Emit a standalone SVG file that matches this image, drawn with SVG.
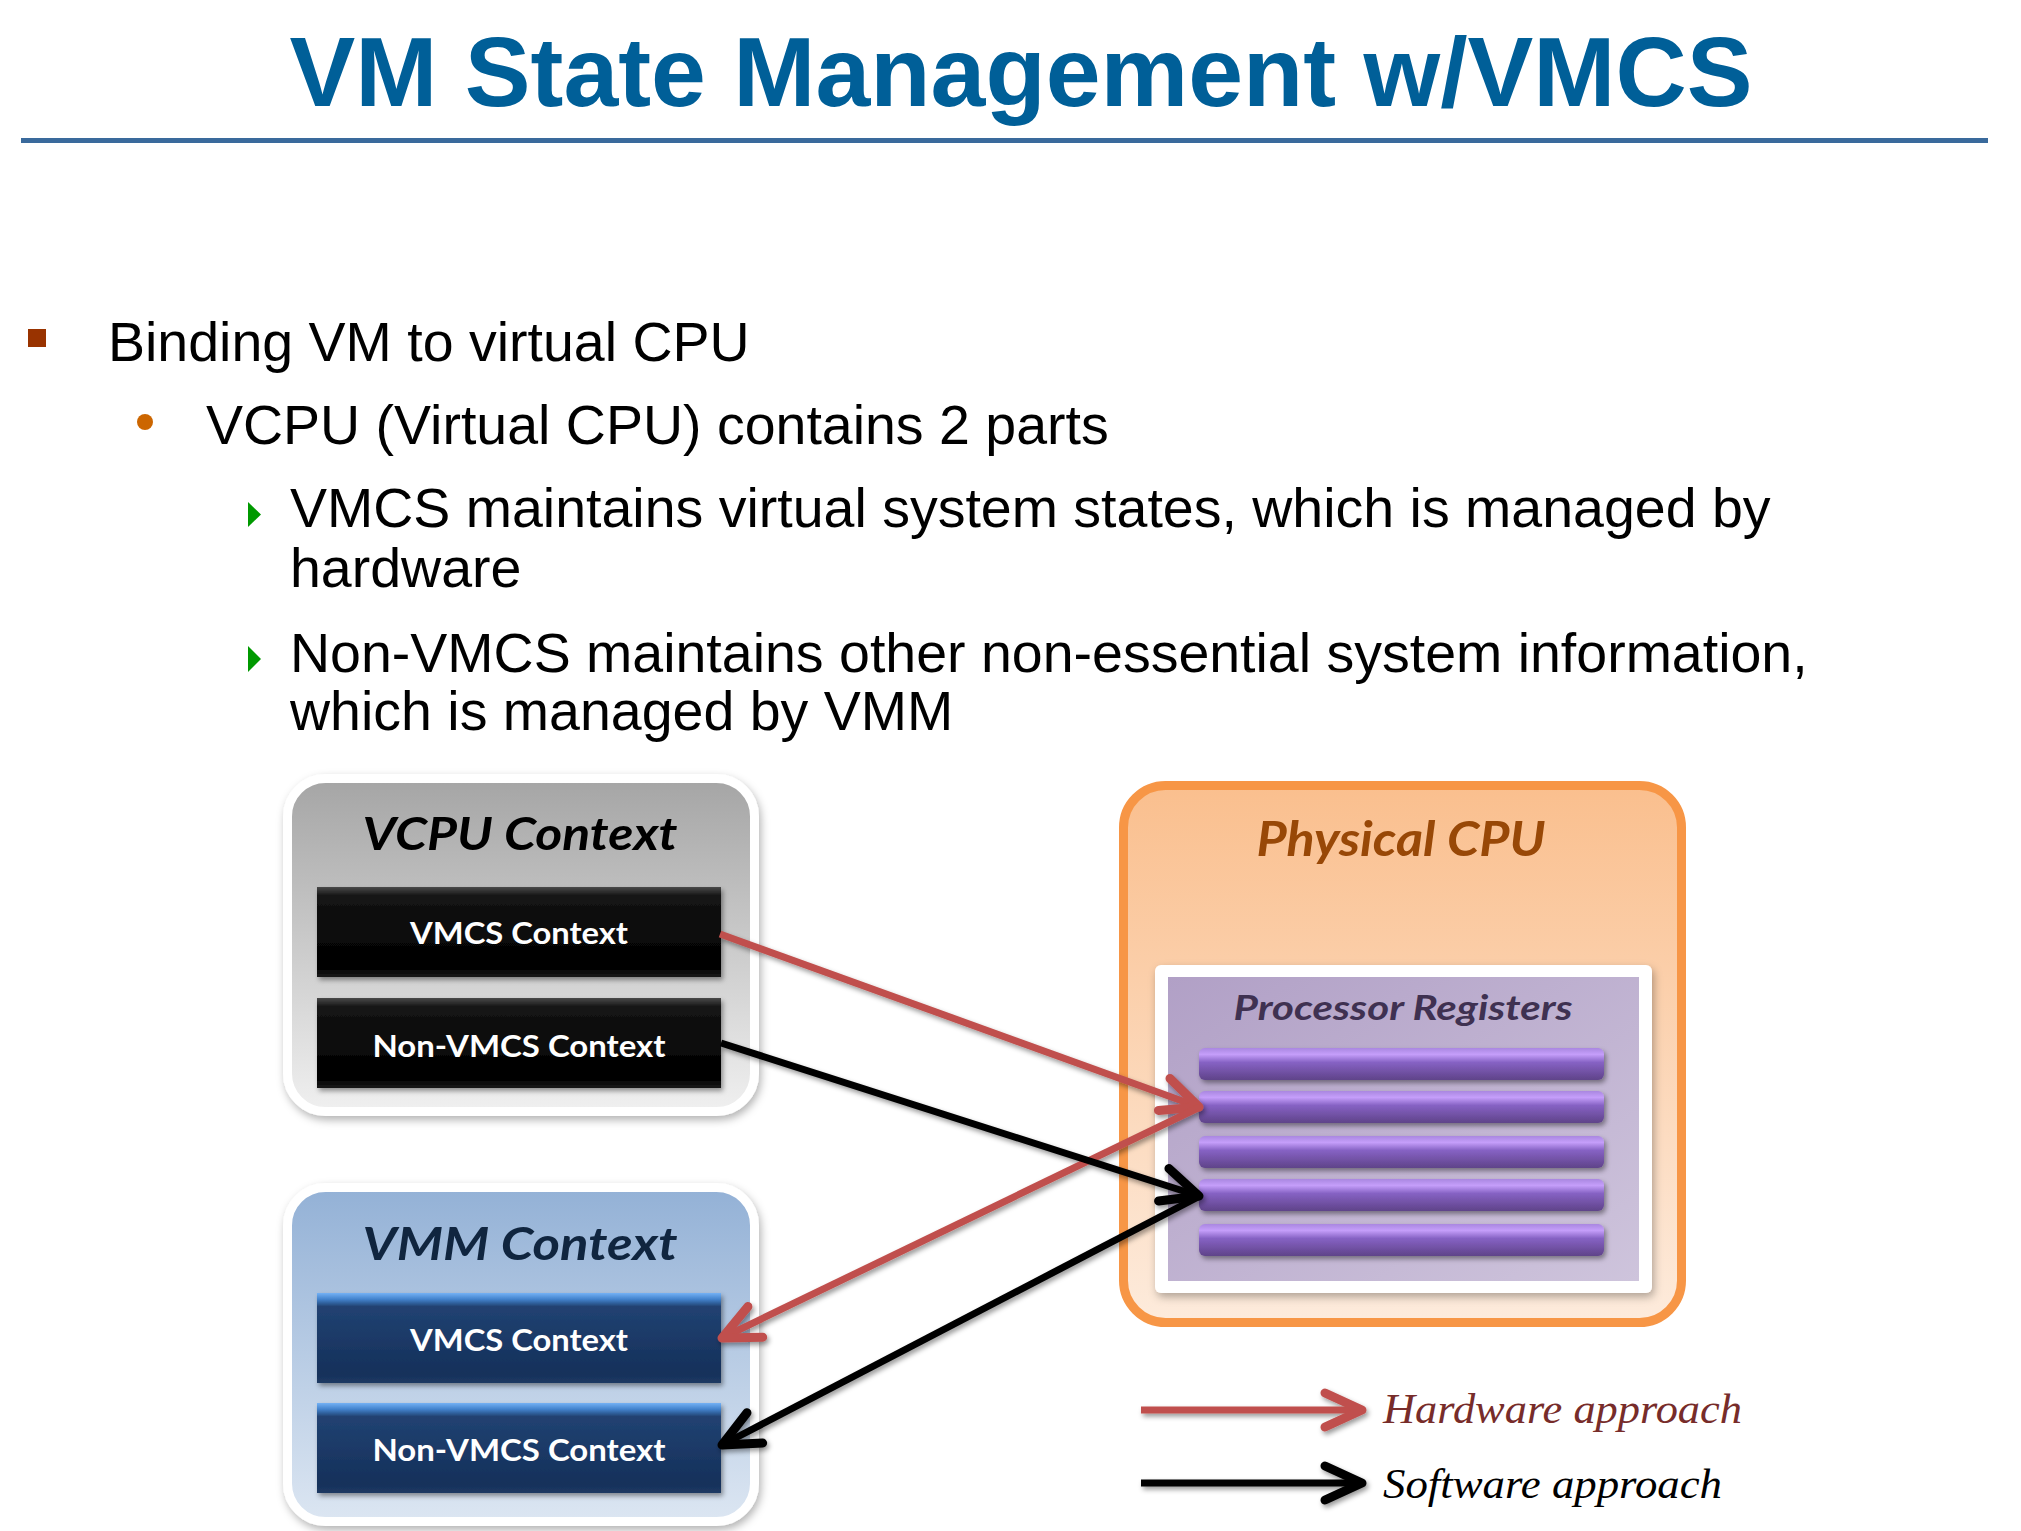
<svg xmlns="http://www.w3.org/2000/svg" width="2021" height="1531" viewBox="0 0 2021 1531">
<defs>
<style>
.body{font-family:"Liberation Sans",Arial,sans-serif;font-size:55.5px;fill:#000}
.ttl{font-family:Lato,"Open Sans",sans-serif;font-weight:bold;font-style:italic;text-anchor:middle}
.bar{font-family:Lato,"Open Sans",sans-serif;font-weight:bold;font-size:31px;fill:#fff;text-anchor:middle}
.leg{font-family:"Liberation Serif","Times New Roman",serif;font-style:italic;font-size:42px}
.conn{fill:none;stroke-width:7}
.red{stroke:#C0504D}
.blk{stroke:#000}
.frame{stroke:#fff;stroke-width:9}
.reg{fill:url(#gPurple)}
</style>
<linearGradient id="gGray" x1="0" y1="0" x2="0" y2="1"><stop offset="0" stop-color="#A5A5A5"/><stop offset="1" stop-color="#F0F0F0"/></linearGradient>
<linearGradient id="gBlue" x1="0" y1="0" x2="0" y2="1"><stop offset="0" stop-color="#93B1D6"/><stop offset="1" stop-color="#DCE6F2"/></linearGradient>
<linearGradient id="gOrange" x1="0" y1="0" x2="0" y2="1"><stop offset="0" stop-color="#FABF8E"/><stop offset="1" stop-color="#FDEBDC"/></linearGradient>
<linearGradient id="gLav" x1="0" y1="0" x2="1" y2="1"><stop offset="0" stop-color="#B1A0C6"/><stop offset="1" stop-color="#CEC4DC"/></linearGradient>
<linearGradient id="gBlack" x1="0" y1="0" x2="0" y2="1"><stop offset="0" stop-color="#4a4a4a"/><stop offset="0.1" stop-color="#141414"/><stop offset="0.9" stop-color="#000"/><stop offset="1" stop-color="#1a1a1a"/></linearGradient>
<linearGradient id="gNavy" x1="0" y1="0" x2="0" y2="1"><stop offset="0" stop-color="#74B1F5"/><stop offset="0.07" stop-color="#4282CC"/><stop offset="0.15" stop-color="#214272"/><stop offset="0.9" stop-color="#15305A"/><stop offset="1" stop-color="#1E3A63"/></linearGradient>
<linearGradient id="gPurple" x1="0" y1="0" x2="0" y2="1"><stop offset="0" stop-color="#A987E0"/><stop offset="0.2" stop-color="#C59EFA"/><stop offset="0.45" stop-color="#8662C4"/><stop offset="1" stop-color="#5F4389"/></linearGradient>
<filter id="sh" x="-10%" y="-10%" width="125%" height="130%"><feDropShadow dx="2" dy="4" stdDeviation="4" flood-color="#000" flood-opacity="0.3"/></filter>
<filter id="shs" x="-10%" y="-30%" width="125%" height="170%"><feDropShadow dx="2" dy="3" stdDeviation="2.5" flood-color="#000" flood-opacity="0.4"/></filter>
<filter id="shu" filterUnits="userSpaceOnUse" x="0" y="0" width="2021" height="1531"><feDropShadow dx="2" dy="3" stdDeviation="2.5" flood-color="#000" flood-opacity="0.4"/></filter>
<marker id="ahR" markerUnits="userSpaceOnUse" viewBox="-50 -30 60 60" refX="0" refY="0" markerWidth="60" markerHeight="60" orient="auto" overflow="visible"><path d="M -37 -17 L 0 0 L -37 17" fill="none" stroke="#C0504D" stroke-width="9" stroke-linecap="round" stroke-linejoin="round"/></marker>
<marker id="ahB" markerUnits="userSpaceOnUse" viewBox="-50 -30 60 60" refX="0" refY="0" markerWidth="60" markerHeight="60" orient="auto" overflow="visible"><path d="M -37 -17 L 0 0 L -37 17" fill="none" stroke="#000" stroke-width="9" stroke-linecap="round" stroke-linejoin="round"/></marker>
</defs>

<rect width="2021" height="1531" fill="#fff"/>

<g id="title">
<text x="1021" y="106" text-anchor="middle" font-family="Liberation Sans,Arial,sans-serif" font-weight="bold" font-size="99" fill="#005F98" textLength="1463" lengthAdjust="spacingAndGlyphs">VM State Management w/VMCS</text>
<rect x="21" y="138" width="1967" height="5" fill="#3A6A9C"/>
</g>

<g id="bullets">
<rect x="28" y="329" width="18" height="18" fill="#993300"/>
<text class="body" x="108" y="361">Binding VM to virtual CPU</text>
<circle cx="145" cy="422" r="8" fill="#CC6600"/>
<text class="body" x="206" y="444">VCPU (Virtual CPU) contains 2 parts</text>
<polygon points="248,502 261,514.5 248,527" fill="#009900"/>
<text class="body" x="290" y="527">VMCS maintains virtual system states, which is managed by</text>
<text class="body" x="290" y="587">hardware</text>
<polygon points="248,646 261,659 248,672" fill="#009900"/>
<text class="body" x="290" y="672">Non-VMCS maintains other non-essential system information,</text>
<text class="body" x="290" y="730">which is managed by VMM</text>
</g>

<g id="vcpu-context">
<rect x="287.5" y="778.5" width="467" height="333" rx="38" fill="url(#gGray)" class="frame" filter="url(#sh)"/>
<text class="ttl" x="520" y="850" font-size="46" fill="#000" textLength="315" lengthAdjust="spacingAndGlyphs">VCPU Context</text>
</g>
<g id="vcpu-vmcs">
<rect x="317" y="887" width="404" height="90" fill="url(#gBlack)" filter="url(#shs)"/>
<text class="bar" x="519" y="944" textLength="218" lengthAdjust="spacingAndGlyphs">VMCS Context</text>
</g>
<g id="vcpu-nonvmcs">
<rect x="317" y="998" width="404" height="90" fill="url(#gBlack)" filter="url(#shs)"/>
<text class="bar" x="519" y="1057" textLength="293" lengthAdjust="spacingAndGlyphs">Non-VMCS Context</text>
</g>

<g id="vmm-context">
<rect x="287.5" y="1187.5" width="467" height="334" rx="38" fill="url(#gBlue)" class="frame" filter="url(#sh)"/>
<text class="ttl" x="520" y="1260" font-size="46" fill="#10253F" textLength="315" lengthAdjust="spacingAndGlyphs">VMM Context</text>
</g>
<g id="vmm-vmcs">
<rect x="317" y="1293" width="404" height="90" fill="url(#gNavy)" filter="url(#shs)"/>
<text class="bar" x="519" y="1351" textLength="218" lengthAdjust="spacingAndGlyphs">VMCS Context</text>
</g>
<g id="vmm-nonvmcs">
<rect x="317" y="1403" width="404" height="90" fill="url(#gNavy)" filter="url(#shs)"/>
<text class="bar" x="519" y="1461" textLength="293" lengthAdjust="spacingAndGlyphs">Non-VMCS Context</text>
</g>

<g id="physical-cpu">
<rect x="1123.5" y="785.5" width="558" height="537" rx="42" fill="url(#gOrange)" stroke="#F79646" stroke-width="9"/>
<text class="ttl" x="1401" y="856" font-size="47" fill="#984807" textLength="289" lengthAdjust="spacingAndGlyphs">Physical CPU</text>
</g>
<g id="processor-registers">
<rect x="1155" y="965" width="497" height="328" rx="6" fill="#fff" filter="url(#sh)"/>
<rect x="1168" y="977" width="471" height="304" fill="url(#gLav)"/>
<text class="ttl" x="1403" y="1020" font-size="35" fill="#3F3151" textLength="339" lengthAdjust="spacingAndGlyphs">Processor Registers</text>
<rect class="reg" x="1199" y="1048" width="405" height="32" rx="6" filter="url(#shs)"/>
<rect class="reg" x="1199" y="1091" width="405" height="32" rx="6" filter="url(#shs)"/>
<rect class="reg" x="1199" y="1136" width="405" height="32" rx="6" filter="url(#shs)"/>
<rect class="reg" x="1199" y="1179" width="405" height="32" rx="6" filter="url(#shs)"/>
<rect class="reg" x="1199" y="1224" width="405" height="32" rx="6" filter="url(#shs)"/>
</g>

<g id="connectors" filter="url(#shu)">
<path class="conn red" d="M 720 934 L 1199 1107" marker-end="url(#ahR)"/>
<path class="conn red" d="M 1200 1107 L 722 1338" marker-end="url(#ahR)"/>
<path class="conn blk" d="M 721 1043 L 1199 1196" marker-end="url(#ahB)"/>
<path class="conn blk" d="M 1200 1196 L 722 1445" marker-end="url(#ahB)"/>
</g>

<g id="legend">
<path class="conn red" d="M 1141 1410 L 1362 1410" stroke-width="8" marker-end="url(#ahR)" filter="url(#shu)"/>
<text class="leg" x="1383" y="1423" fill="#772C2A" textLength="359" lengthAdjust="spacingAndGlyphs">Hardware approach</text>
<path class="conn blk" d="M 1141 1483 L 1362 1483" stroke-width="8" marker-end="url(#ahB)" filter="url(#shu)"/>
<text class="leg" x="1383" y="1498" fill="#000" textLength="339" lengthAdjust="spacingAndGlyphs">Software approach</text>
</g>
</svg>
